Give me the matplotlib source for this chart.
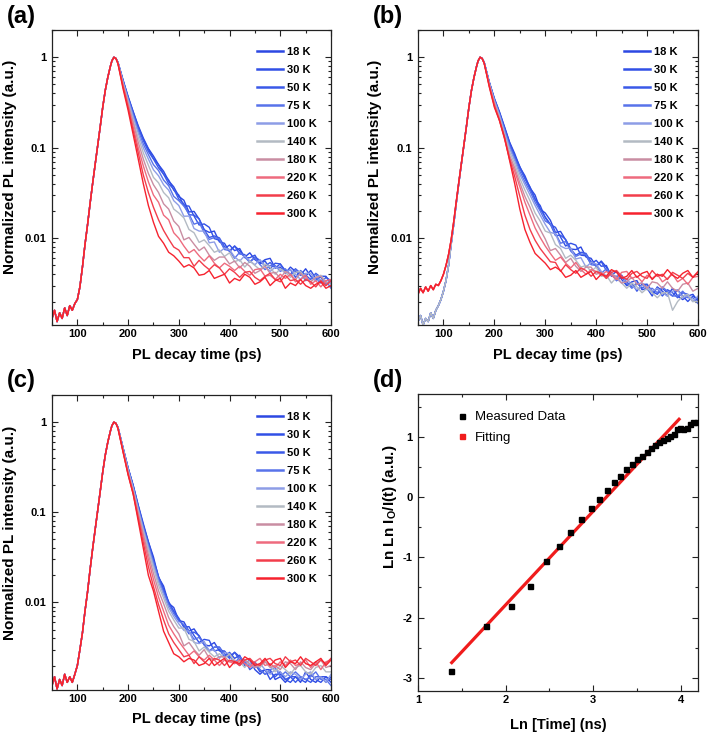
import matplotlib
matplotlib.use('Agg')
import matplotlib.pyplot as plt
from matplotlib.ticker import FixedLocator, MultipleLocator, LogLocator, FuncFormatter, NullFormatter
from matplotlib.lines import Line2D

plt.rcParams['font.family'] = ['Liberation Sans', 'DejaVu Sans']
plt.rcParams['axes.unicode_minus'] = False
plt.rcParams['mathtext.fontset'] = 'custom'
plt.rcParams['mathtext.rm'] = 'Liberation Sans'
plt.rcParams['mathtext.bf'] = 'Liberation Sans:bold'
plt.rcParams['mathtext.it'] = 'Liberation Sans:italic'

# ---------------- data ----------------
TEMPS = ['18 K', '30 K', '50 K', '75 K', '100 K', '140 K', '180 K', '220 K', '260 K', '300 K']
COLORS = ['#2c48e2', '#3150e6', '#3a59e8', '#5873ea', '#8d9de6', '#b3bac3',
          '#c98da2', '#ee6b7e', '#f23d4b', '#f6222e']

T_RISE = [50, 55, 60, 65, 70, 75, 80, 85, 90, 95, 100, 105, 110, 115, 120, 125,
          130, 135, 140, 145, 150, 155, 160, 165, 168, 172, 176]
T_DECAY = [180, 190, 200, 210, 220, 230, 240, 250, 260, 270, 280, 290, 300, 310,
           320, 330, 340, 350, 360, 370, 380, 390, 400, 410, 420, 430, 440, 450,
           460, 470, 480, 490, 500, 510, 520, 530, 540, 550, 560, 570, 580, 590, 600]

# panel (a)
a_rise = [0.0013, 0.0016, 0.0012, 0.0015, 0.0013, 0.0017, 0.0014, 0.0018, 0.0016, 0.0019,
          0.0021, 0.0029, 0.0048, 0.0085, 0.014, 0.024, 0.040, 0.065, 0.105, 0.17,
          0.28, 0.43, 0.60, 0.79, 0.91, 1.0, 0.97]
a_18 = [0.88, 0.56, 0.37, 0.25, 0.175, 0.128, 0.098, 0.081, 0.065, 0.055, 0.043, 0.037, 0.029,
        0.0263, 0.0195, 0.0198, 0.0163, 0.0124, 0.0116, 0.0120, 0.0091, 0.0088, 0.0071, 0.0082,
        0.0073, 0.0062, 0.0069, 0.0058, 0.0053, 0.0058, 0.0060, 0.0047, 0.0048, 0.0041, 0.0048,
        0.0043, 0.0039, 0.0046, 0.0038, 0.0034, 0.0038, 0.0038, 0.0031]
a_30 = [0.88, 0.56, 0.36, 0.25, 0.17, 0.124, 0.096, 0.076, 0.065, 0.051, 0.044, 0.034, 0.030,
        0.0228, 0.0227, 0.0176, 0.0140, 0.0144, 0.0132, 0.0099, 0.0095, 0.0077, 0.0084, 0.0073,
        0.0077, 0.0061, 0.0061, 0.0065, 0.0052, 0.0056, 0.0046, 0.0053, 0.0052, 0.0044, 0.0040,
        0.0046, 0.0041, 0.0038, 0.0044, 0.0036, 0.0032, 0.0037, 0.0034]
a_50 = [0.88, 0.55, 0.36, 0.24, 0.165, 0.12, 0.091, 0.075, 0.060, 0.051, 0.040, 0.035, 0.027,
        0.0240, 0.0182, 0.0180, 0.0164, 0.0124, 0.0102, 0.0106, 0.0101, 0.0081, 0.0073, 0.0082,
        0.0067, 0.0066, 0.0055, 0.0062, 0.0057, 0.0049, 0.0054, 0.0047, 0.0052, 0.0042, 0.0045,
        0.0037, 0.0044, 0.0039, 0.0035, 0.0041, 0.0037, 0.0031, 0.0034]
a_75 = [0.87, 0.54, 0.35, 0.23, 0.155, 0.11, 0.084, 0.065, 0.056, 0.044, 0.038, 0.029, 0.026,
        0.0227, 0.0185, 0.0143, 0.0150, 0.0115, 0.0097, 0.0102, 0.0098, 0.0075, 0.0073, 0.0060,
        0.0070, 0.0062, 0.0054, 0.0061, 0.0051, 0.0045, 0.0050, 0.0050, 0.0043, 0.0046, 0.0039,
        0.0045, 0.0041, 0.0034, 0.0036, 0.0040, 0.0033, 0.0034, 0.0028]
a_100 = [0.87, 0.53, 0.34, 0.22, 0.145, 0.10, 0.075, 0.057, 0.049, 0.039, 0.034, 0.026, 0.023,
         0.0175, 0.0176, 0.0128, 0.0120, 0.0120, 0.0089, 0.0091, 0.0070, 0.0078, 0.0075, 0.0062,
         0.0056, 0.0064, 0.0056, 0.0051, 0.0058, 0.0049, 0.0043, 0.0048, 0.0046, 0.0042, 0.0045,
         0.0040, 0.0035, 0.0041, 0.0041, 0.0034, 0.0035, 0.0030, 0.0034]
a_140 = [0.87, 0.52, 0.32, 0.20, 0.13, 0.088, 0.064, 0.047, 0.041, 0.032, 0.028, 0.021, 0.019,
         0.0168, 0.0125, 0.0115, 0.0090, 0.0096, 0.0083, 0.0070, 0.0074, 0.0063, 0.0069, 0.0055,
         0.0058, 0.0048, 0.0056, 0.0050, 0.0045, 0.0052, 0.0048, 0.0040, 0.0046, 0.0042, 0.0037,
         0.0042, 0.0043, 0.0036, 0.0033, 0.0037, 0.0039, 0.0033, 0.0031]
a_180 = [0.86, 0.50, 0.31, 0.19, 0.115, 0.075, 0.052, 0.039, 0.032, 0.024, 0.021, 0.0155, 0.0135,
         0.0096, 0.0102, 0.0086, 0.0073, 0.0080, 0.0065, 0.0057, 0.0062, 0.0062, 0.0052, 0.0056,
         0.0047, 0.0054, 0.0049, 0.0041, 0.0044, 0.0049, 0.0041, 0.0042, 0.0036, 0.0043, 0.0040,
         0.0035, 0.0041, 0.0036, 0.0033, 0.0037, 0.0038, 0.0032, 0.0033]
a_220 = [0.86, 0.49, 0.29, 0.17, 0.10, 0.063, 0.042, 0.030, 0.025, 0.018, 0.016, 0.0115, 0.0100,
         0.0082, 0.0069, 0.0075, 0.0064, 0.0056, 0.0064, 0.0053, 0.0047, 0.0053, 0.0049, 0.0044,
         0.0049, 0.0043, 0.0039, 0.0045, 0.0046, 0.0038, 0.0039, 0.0035, 0.0040, 0.0036, 0.0040,
         0.0033, 0.0035, 0.0039, 0.0031, 0.0034, 0.0029, 0.0034, 0.0035]
a_260 = [0.85, 0.47, 0.28, 0.155, 0.088, 0.050, 0.032, 0.022, 0.016, 0.0122, 0.0098, 0.0080, 0.0074,
         0.0061, 0.0061, 0.0049, 0.0057, 0.0050, 0.0045, 0.0051, 0.0047, 0.0040, 0.0046, 0.0042,
         0.0037, 0.0042, 0.0043, 0.0037, 0.0034, 0.0038, 0.0041, 0.0035, 0.0033, 0.0039, 0.0034,
         0.0035, 0.0031, 0.0035, 0.0033, 0.0029, 0.0034, 0.0030, 0.0034]
a_300 = [0.85, 0.45, 0.26, 0.14, 0.075, 0.040, 0.023, 0.015, 0.0105, 0.0088, 0.0070, 0.0064, 0.0056,
         0.0048, 0.0051, 0.0047, 0.0039, 0.0040, 0.0044, 0.0036, 0.0038, 0.0040, 0.0032, 0.0036,
         0.0034, 0.0040, 0.0037, 0.0031, 0.0033, 0.0037, 0.0030, 0.0034, 0.0036, 0.0028, 0.0032,
         0.0030, 0.0035, 0.0030, 0.0028, 0.0031, 0.0033, 0.0028, 0.0030]

# panel (b)
b_rise_cold = [0.0012, 0.0014, 0.0011, 0.0013, 0.0012, 0.0015, 0.0013, 0.0016, 0.0018, 0.0021,
               0.0026, 0.0034, 0.0050, 0.0085, 0.014, 0.024, 0.040, 0.065, 0.105, 0.17,
               0.28, 0.43, 0.60, 0.79, 0.91, 1.0, 0.97]
b_rise_warm = [0.0024, 0.0028, 0.0025, 0.0029, 0.0026, 0.0030, 0.0027, 0.0031, 0.0030, 0.0034,
               0.0040, 0.0050, 0.0066, 0.0095, 0.015, 0.025, 0.041, 0.066, 0.106, 0.17,
               0.28, 0.43, 0.60, 0.79, 0.91, 1.0, 0.97]
b_18 = [0.88, 0.53, 0.35, 0.25, 0.17, 0.115, 0.086, 0.061, 0.049, 0.036, 0.030, 0.021, 0.019,
        0.0158, 0.0116, 0.0119, 0.0096, 0.0076, 0.0075, 0.0080, 0.0062, 0.0060, 0.0049, 0.0056,
        0.0048, 0.0039, 0.0043, 0.0035, 0.0030, 0.0033, 0.0034, 0.0027, 0.0028, 0.0023, 0.0029,
        0.0026, 0.0023, 0.0028, 0.0023, 0.0021, 0.0023, 0.0024, 0.0020]
b_30 = [0.88, 0.53, 0.35, 0.245, 0.167, 0.113, 0.082, 0.062, 0.046, 0.037, 0.027, 0.023, 0.0168,
        0.0141, 0.0132, 0.0103, 0.0082, 0.0088, 0.0084, 0.0065, 0.0064, 0.0052, 0.0057, 0.0049,
        0.0050, 0.0038, 0.0038, 0.0039, 0.0030, 0.0032, 0.0026, 0.0031, 0.0031, 0.0026, 0.0024,
        0.0028, 0.0025, 0.0023, 0.0027, 0.0023, 0.0020, 0.0023, 0.0021]
b_50 = [0.88, 0.53, 0.34, 0.24, 0.163, 0.110, 0.080, 0.059, 0.046, 0.035, 0.027, 0.021, 0.0172,
        0.0143, 0.0107, 0.0108, 0.0097, 0.0076, 0.0065, 0.0070, 0.0068, 0.0055, 0.0049, 0.0055,
        0.0044, 0.0042, 0.0034, 0.0037, 0.0033, 0.0029, 0.0032, 0.0028, 0.0031, 0.0025, 0.0028,
        0.0023, 0.0027, 0.0025, 0.0022, 0.0025, 0.0024, 0.0020, 0.0022]
b_75 = [0.87, 0.52, 0.34, 0.235, 0.157, 0.104, 0.076, 0.055, 0.042, 0.033, 0.025, 0.020, 0.0155,
        0.0143, 0.0114, 0.0088, 0.0092, 0.0072, 0.0063, 0.0067, 0.0066, 0.0051, 0.0050, 0.0041,
        0.0046, 0.0040, 0.0034, 0.0039, 0.0032, 0.0028, 0.0031, 0.0032, 0.0027, 0.0028, 0.0025,
        0.0029, 0.0026, 0.0023, 0.0023, 0.0026, 0.0022, 0.0022, 0.0019]
b_100 = [0.87, 0.52, 0.33, 0.23, 0.150, 0.098, 0.072, 0.051, 0.039, 0.030, 0.023, 0.018, 0.0142,
         0.0116, 0.0112, 0.0082, 0.0077, 0.0078, 0.0059, 0.0061, 0.0048, 0.0054, 0.0052, 0.0043,
         0.0038, 0.0042, 0.0036, 0.0032, 0.0036, 0.0030, 0.0027, 0.0030, 0.0029, 0.0026, 0.0028,
         0.0025, 0.0023, 0.0026, 0.0027, 0.0022, 0.0023, 0.0020, 0.0023]
b_140 = [0.86, 0.51, 0.32, 0.22, 0.140, 0.090, 0.066, 0.046, 0.034, 0.026, 0.019, 0.0155, 0.0120,
         0.0114, 0.0085, 0.0077, 0.0060, 0.0065, 0.0057, 0.0048, 0.0050, 0.0043, 0.0048, 0.0038,
         0.0039, 0.0032, 0.0037, 0.0032, 0.0028, 0.0032, 0.0029, 0.0025, 0.0028, 0.0025, 0.0022,
         0.0025, 0.0025, 0.0016, 0.0020, 0.0023, 0.0024, 0.0020, 0.0020]
b_180 = [0.86, 0.50, 0.31, 0.21, 0.132, 0.082, 0.060, 0.041, 0.029, 0.022, 0.016, 0.0125, 0.0098,
         0.0073, 0.0077, 0.0065, 0.0054, 0.0060, 0.0049, 0.0043, 0.0048, 0.0048, 0.0040, 0.0042,
         0.0036, 0.0041, 0.0037, 0.0032, 0.0033, 0.0037, 0.0031, 0.0032, 0.0028, 0.0033, 0.0032,
         0.0028, 0.0033, 0.0028, 0.0026, 0.0031, 0.0032, 0.0026, 0.0028]
b_220 = [0.86, 0.49, 0.30, 0.205, 0.128, 0.077, 0.055, 0.037, 0.025, 0.018, 0.013, 0.0102, 0.0082,
         0.0068, 0.0057, 0.0062, 0.0053, 0.0047, 0.0054, 0.0045, 0.0040, 0.0045, 0.0043, 0.0039,
         0.0043, 0.0039, 0.0035, 0.0042, 0.0043, 0.0036, 0.0038, 0.0033, 0.0039, 0.0036, 0.0040,
         0.0033, 0.0036, 0.0040, 0.0033, 0.0036, 0.0031, 0.0037, 0.0038]
b_260 = [0.86, 0.48, 0.29, 0.20, 0.125, 0.074, 0.048, 0.029, 0.018, 0.0125, 0.0095, 0.0077, 0.0065,
         0.0055, 0.0054, 0.0043, 0.0051, 0.0045, 0.0041, 0.0047, 0.0044, 0.0038, 0.0043, 0.0041,
         0.0036, 0.0042, 0.0044, 0.0038, 0.0035, 0.0041, 0.0043, 0.0038, 0.0036, 0.0044, 0.0038,
         0.0040, 0.0035, 0.0042, 0.0039, 0.0036, 0.0041, 0.0037, 0.0043]
b_300 = [0.86, 0.47, 0.28, 0.20, 0.13, 0.072, 0.040, 0.021, 0.0125, 0.0090, 0.0068, 0.0060, 0.0053,
         0.0045, 0.0048, 0.0044, 0.0037, 0.0039, 0.0044, 0.0037, 0.0040, 0.0043, 0.0035, 0.0040,
         0.0038, 0.0045, 0.0042, 0.0036, 0.0038, 0.0044, 0.0037, 0.0041, 0.0043, 0.0035, 0.0040,
         0.0038, 0.0045, 0.0039, 0.0036, 0.0041, 0.0044, 0.0037, 0.0042]

# panel (c)
c_rise = [0.0012, 0.0015, 0.0011, 0.0014, 0.0012, 0.0016, 0.0013, 0.0015, 0.0013, 0.0016,
          0.0020, 0.0030, 0.0046, 0.0080, 0.013, 0.023, 0.039, 0.064, 0.104, 0.17,
          0.28, 0.43, 0.60, 0.79, 0.91, 1.0, 0.97]
c_18 = [0.88, 0.52, 0.31, 0.20, 0.12, 0.075, 0.047, 0.032, 0.019, 0.0152, 0.0098, 0.0088, 0.0063,
        0.0061, 0.0048, 0.0051, 0.0042, 0.0034, 0.0033, 0.0036, 0.0029, 0.0029, 0.0025, 0.0028,
        0.0025, 0.0021, 0.0023, 0.0018, 0.0016, 0.0018, 0.0018, 0.0014, 0.0015, 0.0013, 0.0015,
        0.0015, 0.0013, 0.0017, 0.0014, 0.0013, 0.0015, 0.0015, 0.0013]
c_30 = [0.88, 0.52, 0.31, 0.198, 0.118, 0.072, 0.047, 0.030, 0.0195, 0.0140, 0.0102, 0.0080, 0.0067,
        0.0053, 0.0054, 0.0043, 0.0036, 0.0039, 0.0038, 0.0029, 0.0030, 0.0025, 0.0028, 0.0024,
        0.0026, 0.0020, 0.0020, 0.0021, 0.0017, 0.0018, 0.0014, 0.0016, 0.0016, 0.0014, 0.0013,
        0.0015, 0.0014, 0.0013, 0.0016, 0.0014, 0.0013, 0.0015, 0.0014]
c_50 = [0.88, 0.52, 0.31, 0.195, 0.115, 0.070, 0.045, 0.029, 0.019, 0.0137, 0.0098, 0.0079, 0.0065,
        0.0055, 0.0045, 0.0047, 0.0043, 0.0034, 0.0029, 0.0032, 0.0032, 0.0027, 0.0024, 0.0028,
        0.0023, 0.0023, 0.0018, 0.0020, 0.0018, 0.0016, 0.0017, 0.0015, 0.0017, 0.0014, 0.0015,
        0.0013, 0.0015, 0.0014, 0.0013, 0.0015, 0.0015, 0.0013, 0.0015]
c_75 = [0.87, 0.51, 0.30, 0.19, 0.112, 0.068, 0.043, 0.028, 0.018, 0.0130, 0.0094, 0.0075, 0.0062,
        0.0057, 0.0048, 0.0039, 0.0041, 0.0034, 0.0029, 0.0032, 0.0032, 0.0025, 0.0026, 0.0021,
        0.0025, 0.0022, 0.0020, 0.0022, 0.0018, 0.0016, 0.0018, 0.0019, 0.0015, 0.0017, 0.0015,
        0.0017, 0.0015, 0.0014, 0.0015, 0.0017, 0.0014, 0.0014, 0.0012]
c_100 = [0.87, 0.51, 0.30, 0.185, 0.108, 0.065, 0.041, 0.026, 0.017, 0.0122, 0.0088, 0.0070, 0.0058,
         0.0049, 0.0048, 0.0036, 0.0035, 0.0037, 0.0029, 0.0030, 0.0024, 0.0028, 0.0027, 0.0022,
         0.0020, 0.0023, 0.0020, 0.0019, 0.0021, 0.0018, 0.0016, 0.0018, 0.0017, 0.0015, 0.0017,
         0.0016, 0.0014, 0.0016, 0.0017, 0.0014, 0.0015, 0.0013, 0.0016]
c_140 = [0.87, 0.50, 0.29, 0.18, 0.103, 0.061, 0.038, 0.024, 0.0155, 0.0112, 0.0080, 0.0064, 0.0052,
         0.0052, 0.0039, 0.0037, 0.0029, 0.0032, 0.0028, 0.0025, 0.0027, 0.0024, 0.0027, 0.0022,
         0.0022, 0.0019, 0.0023, 0.0021, 0.0019, 0.0022, 0.0020, 0.0017, 0.0020, 0.0018, 0.0016,
         0.0019, 0.0020, 0.0017, 0.0016, 0.0019, 0.0020, 0.0017, 0.0017]
c_180 = [0.86, 0.49, 0.28, 0.17, 0.097, 0.057, 0.034, 0.021, 0.0135, 0.0097, 0.0068, 0.0054, 0.0045,
         0.0033, 0.0036, 0.0030, 0.0026, 0.0030, 0.0024, 0.0023, 0.0025, 0.0025, 0.0022, 0.0023,
         0.0020, 0.0023, 0.0021, 0.0019, 0.0020, 0.0022, 0.0019, 0.0020, 0.0018, 0.0022, 0.0021,
         0.0018, 0.0022, 0.0019, 0.0018, 0.0021, 0.0023, 0.0019, 0.0020]
c_220 = [0.86, 0.48, 0.27, 0.165, 0.092, 0.052, 0.030, 0.018, 0.0115, 0.0080, 0.0056, 0.0045, 0.0037,
         0.0031, 0.0026, 0.0029, 0.0025, 0.0023, 0.0026, 0.0023, 0.0020, 0.0023, 0.0022, 0.0021,
         0.0023, 0.0021, 0.0019, 0.0022, 0.0024, 0.0020, 0.0021, 0.0019, 0.0022, 0.0020, 0.0023,
         0.0020, 0.0021, 0.0023, 0.0019, 0.0022, 0.0018, 0.0022, 0.0023]
c_260 = [0.86, 0.47, 0.265, 0.16, 0.086, 0.046, 0.025, 0.015, 0.0095, 0.0064, 0.0045, 0.0036, 0.0030,
         0.0025, 0.0026, 0.0021, 0.0025, 0.0022, 0.0020, 0.0024, 0.0023, 0.0020, 0.0023, 0.0022,
         0.0020, 0.0023, 0.0024, 0.0021, 0.0020, 0.0023, 0.0024, 0.0021, 0.0020, 0.0025, 0.0022,
         0.0023, 0.0020, 0.0024, 0.0022, 0.0020, 0.0023, 0.0021, 0.0024]
c_300 = [0.85, 0.47, 0.26, 0.16, 0.080, 0.040, 0.020, 0.0134, 0.0080, 0.0048, 0.0036, 0.0027, 0.0025,
         0.0022, 0.0024, 0.0023, 0.0020, 0.0021, 0.0024, 0.0020, 0.0022, 0.0024, 0.0019, 0.0022,
         0.0021, 0.0025, 0.0023, 0.0020, 0.0021, 0.0024, 0.0020, 0.0023, 0.0024, 0.0019, 0.0022,
         0.0021, 0.0025, 0.0021, 0.0020, 0.0022, 0.0024, 0.0020, 0.0023]

# panel (d)
d_x = [1.373, 1.772, 2.065, 2.285, 2.468, 2.616, 2.741, 2.867, 2.977, 3.068, 3.156, 3.240,
       3.308, 3.376, 3.445, 3.506, 3.559, 3.612, 3.662, 3.711, 3.757, 3.798, 3.840, 3.878,
       3.920, 3.958, 3.996, 4.034, 4.072, 4.106, 4.144, 4.183]
d_y = [-2.895, -2.137, -1.816, -1.473, -1.058, -0.809, -0.588, -0.367, -0.190, -0.035, 0.109, 0.248,
       0.347, 0.463, 0.546, 0.624, 0.679, 0.740, 0.806, 0.856, 0.911, 0.950, 0.983, 1.017,
       1.050, 1.127, 1.138, 1.127, 1.149, 1.205, 1.238, 1.249]
fit_x = [1.373, 3.996]
fit_y = [-2.768, 1.310]

# ---------------- figure ----------------
fig = plt.figure(figsize=(7.08, 7.35), dpi=100)
W, H = 708.0, 735.0

def add_ax(x0, y0, x1, y1):
    return fig.add_axes([x0 / W, 1 - y1 / H, (x1 - x0) / W, (y1 - y0) / H])

TICKFS = 8
LABFS = 10.5

def style_common(ax):
    for s in ax.spines.values():
        s.set_linewidth(0.9)
        s.set_color('#222222')
    ax.tick_params(which='both', direction='in', top=True, right=True,
                   labelsize=TICKFS, width=0.8, color='#222222', pad=3)
    ax.tick_params(which='major', length=4)
    ax.tick_params(which='minor', length=2.2)
    ax.tick_params(axis='y', pad=4)
    for lab in ax.get_xticklabels() + ax.get_yticklabels():
        lab.set_fontweight('bold')

def decay_panel(ax, rises, curves, ylo):
    for rise, dec, col, lab in zip(rises, curves, COLORS, TEMPS):
        ax.plot(T_RISE + T_DECAY, rise + dec, color=col, lw=1.0, label=lab)
    ax.set_yscale('log')
    ax.set_xlim(50, 600)
    ax.set_ylim(ylo, 2.0)
    ax.xaxis.set_major_locator(FixedLocator([100, 200, 300, 400, 500, 600]))
    ax.xaxis.set_minor_locator(MultipleLocator(50))
    ax.yaxis.set_major_locator(FixedLocator([0.001, 0.01, 0.1, 1]))
    ax.yaxis.set_minor_locator(LogLocator(base=10, subs=[2, 3, 4, 5, 6, 7, 8, 9]))
    ax.yaxis.set_major_formatter(FuncFormatter(lambda v, p: {0.01: '0.01', 0.1: '0.1', 1: '1'}.get(round(v, 4), '')))
    ax.yaxis.set_minor_formatter(NullFormatter())
    style_common(ax)
    ax.set_xlabel('PL decay time (ps)', fontsize=LABFS, fontweight='bold')
    ax.set_ylabel('Normalized PL intensity (a.u.)', fontsize=11, fontweight='bold')
    ax.xaxis.label.set_va('center')
    ax.yaxis.label.set_va('center')
    leg = ax.legend(loc='upper left', bbox_to_anchor=(0.735, 0.942), frameon=False,
                    handlelength=2.35, handletextpad=0.35, labelspacing=0.72,
                    borderpad=0, borderaxespad=0,
                    prop={'weight': 'bold', 'size': 8})
    for h in leg.get_lines():
        h.set_linewidth(1.8)
    return ax

ax_a = add_ax(52, 30, 331, 325)
decay_panel(ax_a, [a_rise] * 10,
            [a_18, a_30, a_50, a_75, a_100, a_140, a_180, a_220, a_260, a_300], 0.0011)
ax_a.xaxis.set_label_coords(0.52, -0.10)
ax_a.yaxis.set_label_coords(-0.15, 0.535)

ax_b = add_ax(418, 30, 698, 325)
decay_panel(ax_b, [b_rise_cold] * 6 + [b_rise_warm] * 4,
            [b_18, b_30, b_50, b_75, b_100, b_140, b_180, b_220, b_260, b_300], 0.0011)
ax_b.xaxis.set_label_coords(0.50, -0.10)
ax_b.yaxis.set_label_coords(-0.154, 0.535)

ax_c = add_ax(52, 395, 331, 690)
decay_panel(ax_c, [c_rise] * 10,
            [c_18, c_30, c_50, c_75, c_100, c_140, c_180, c_220, c_260, c_300], 0.00107)
ax_c.xaxis.set_label_coords(0.52, -0.10)
ax_c.yaxis.set_label_coords(-0.15, 0.532)

ax_d = add_ax(418, 394, 698, 691)
ax_d.plot(fit_x, fit_y, color='#f01c1c', lw=2.3, solid_capstyle='butt', zorder=2)
ax_d.plot(d_x, d_y, ls='none', marker='s', ms=3.6, color='black', zorder=3)
ax_d.set_xlim(1, 4.2)
ax_d.set_ylim(-3.22, 1.71)
ax_d.xaxis.set_major_locator(MultipleLocator(1))
ax_d.xaxis.set_minor_locator(MultipleLocator(0.5))
ax_d.yaxis.set_major_locator(MultipleLocator(1))
ax_d.yaxis.set_minor_locator(MultipleLocator(0.5))
ax_d.xaxis.set_major_formatter(FuncFormatter(lambda v, p: '%d' % round(v)))
ax_d.yaxis.set_major_formatter(FuncFormatter(lambda v, p: '%d' % round(v)))
style_common(ax_d)
ax_d.set_xlabel('Ln [Time] (ns)', fontsize=LABFS, fontweight='bold')
ax_d.set_ylabel(r'Ln Ln I$_\mathbf{O}$/I(t) (a.u.)', fontsize=11, fontweight='bold')
ax_d.xaxis.label.set_va('center')
ax_d.yaxis.label.set_va('center')
ax_d.xaxis.set_label_coords(0.50, -0.115)
ax_d.yaxis.set_label_coords(-0.10, 0.62)
handles = [Line2D([], [], ls='none', marker='s', ms=3.6, color='black'),
           Line2D([], [], ls='none', marker='s', ms=3.6, color='#f01c1c')]
ax_d.legend(handles, ['Measured Data', 'Fitting'], loc='upper left', bbox_to_anchor=(0.134, 0.942),
            frameon=False, handlelength=1.0, handletextpad=0.5, labelspacing=0.6,
            borderpad=0, borderaxespad=0, prop={'size': 9.5})

# panel letters
for txt, x, y in [('(a)', 7, 17), ('(b)', 373, 17), ('(c)', 7, 381), ('(d)', 373, 381)]:
    fig.text(x / W, 1 - y / H, txt, fontsize=17, fontweight='bold', ha='left', va='center')

fig.savefig('out.png', dpi=100)
